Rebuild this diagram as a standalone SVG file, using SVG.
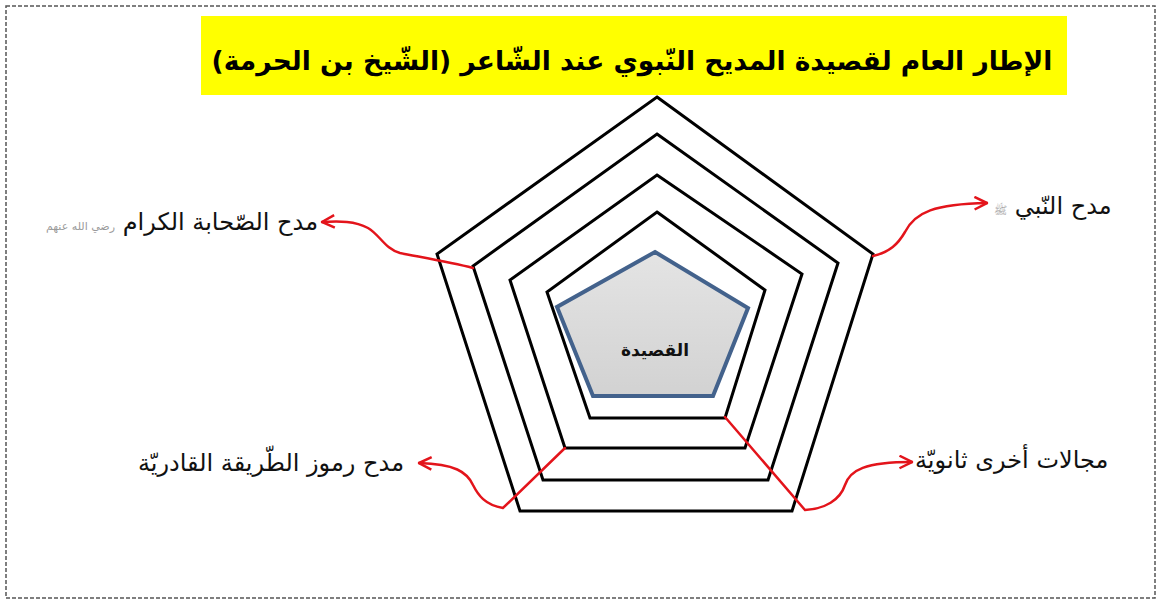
<svg xmlns="http://www.w3.org/2000/svg" width="1157" height="601" viewBox="0 0 1157 601">
<style>
.ring{fill:none;stroke:#000;stroke-width:3;stroke-linejoin:miter}
.con{fill:none;stroke:#e3141b;stroke-width:2.5;stroke-linecap:round}
.ar{font-family:"DejaVu Sans",sans-serif;direction:rtl;unicode-bidi:embed}
.lbl{font-size:24px;fill:#111}
.hon{fill:#9a9a9a;font-size:11px}
</style>
<defs>
<marker id="arr" viewBox="0 0 12 12" refX="11" refY="6" markerWidth="6" markerHeight="6" markerUnits="strokeWidth" orient="auto">
<path d="M1,1 L11,6 L1,11" fill="none" stroke="#e3141b" stroke-width="2"/>
</marker>
<linearGradient id="g" x1="0" y1="0" x2="0" y2="1">
<stop offset="0" stop-color="#e4e4e4"/><stop offset="1" stop-color="#d2d2d2"/>
</linearGradient>
</defs>
<rect x="0" y="0" width="1157" height="601" fill="#fff"/>
<rect x="6" y="6" width="1149" height="592" fill="none" stroke="#555" stroke-width="1.5" stroke-dasharray="4 2"/>
<g id="title">
<rect x="201" y="16" width="866" height="79" fill="#ffff00"/>
<text class="ar" x="632" y="70" text-anchor="middle" font-size="26.5" font-weight="bold" fill="#000">الإطار العام لقصيدة المديح النّبوي عند الشّاعر (الشّيخ بن الحرمة)</text>
</g>
<g id="rings">
<polygon id="ring1" class="ring" points="657,97 873,254 792,511 520,511 437,254"/>
<polygon id="ring2" class="ring" points="657,134 838,263 768,480 543,480 473,266"/>
<polygon id="ring3" class="ring" points="657,175 802,274 745,448 565,448 510,280"/>
<polygon id="ring4" class="ring" points="657,212 765,290 725,418 590,418 547,292"/>
</g>
<g id="core">
<polygon points="655,252 748,308 713,396 593,396 557,307" fill="url(#g)" stroke="#43628c" stroke-width="4" stroke-linejoin="miter"/>
<text class="ar" x="655" y="356" text-anchor="middle" font-size="17" font-weight="bold" fill="#111">القصيدة</text>
</g>
<g id="connectors">
<path class="con" marker-end="url(#arr)" d="M473,268 C450,262 420,257 400,253 C385,249 380,235 368,228 C355,221 340,221 322,222"/>
<path class="con" marker-end="url(#arr)" d="M873,256 C890,252 898,244 905,232 C915,212 935,204 987,203"/>
<path class="con" marker-end="url(#arr)" d="M565,448 L503,508 C485,505 478,495 473,485 C467,472 455,464 419,463"/>
<path class="con" marker-end="url(#arr)" d="M725,417 L805,510 C825,509 840,500 845,485 C850,470 865,462 912,462"/>
</g>
<g id="label-sahaba">
<text class="ar lbl" x="318" y="230" text-anchor="start">مدح الصّحابة الكرام <tspan class="hon">رضي الله عنهم</tspan></text>
</g>
<g id="label-nabi">
<text class="ar lbl" x="994" y="214" text-anchor="end">مدح النّبي <tspan class="hon" font-size="16">ﷺ</tspan></text>
</g>
<g id="label-tariqa">
<text class="ar lbl" x="404" y="471" text-anchor="start">مدح رموز الطّريقة القادريّة</text>
</g>
<g id="label-other">
<text class="ar lbl" x="915" y="468" text-anchor="end">مجالات أخرى ثانويّة</text>
</g>
</svg>
